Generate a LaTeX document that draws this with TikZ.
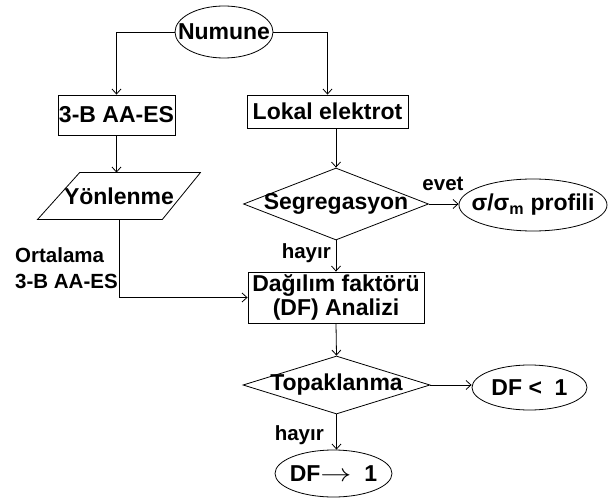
\documentclass[tikz,border=0pt]{standalone}
\usepackage{fontspec}
\setmainfont{Liberation Sans}
\usetikzlibrary{shapes.geometric,arrows.meta,calc}
\begin{document}
\begin{tikzpicture}[x=1pt,y=-1pt,
  base/.style={inner sep=0pt, font=\fontsize{23}{24.5}\selectfont\bfseries, line width=0.8pt},
  boxn/.style={base, draw, rectangle},
  ell/.style={base, draw, ellipse},
  dia/.style={base, draw, diamond},
  lab/.style={inner sep=0pt, font=\fontsize{20.5}{26}\selectfont\bfseries},
  arr/.style={line width=0.8pt, -{Straight Barb[length=5pt,width=9pt]}},
  ln/.style={line width=0.8pt}]
\useasboundingbox (0,0) rectangle (608,500);
% nodes
\node[ell, minimum width=98pt, minimum height=52pt] (num) at (224,32) {\makebox[0pt]{Numune}};
\node[boxn, minimum width=117pt, minimum height=40pt] (b3) at (116.5,115) {\makebox[0pt]{3-B AA-ES}};
\node[boxn, minimum width=161pt, minimum height=33pt] (lok) at (327.5,111.5) {\makebox[0pt]{Lokal elektrot}};
\node[base, minimum width=124pt, minimum height=46pt] (yon) at (119,196) {\makebox[0pt]{Yönlenme}};
\draw[ln] ([xshift=-19pt]yon.south west) -- ([xshift=23pt]yon.north west) -- ([xshift=19pt]yon.north east) -- ([xshift=-19pt]yon.south east) -- cycle;
\node[dia, minimum width=185pt, minimum height=72pt] (seg) at (336,204) {\makebox[0pt]{Segregasyon}};
\node[ell, minimum width=148pt, minimum height=52pt] (sig) at (533,205) {\makebox[0pt]{σ/σ\textsubscript{m} profili}};
\node[boxn, minimum width=176pt, minimum height=51pt, align=center] (df) at (336,297.5) {Dağılım faktörü\\(DF) Analizi};
\node[dia, minimum width=187pt, minimum height=58pt] (top) at (336.5,385) {\makebox[0pt]{Topaklanma}};
\node[ell, minimum width=115pt, minimum height=45pt] (dflt) at (529.5,387.5) {\makebox[0pt]{DF <\ \ 1}};
\node[ell, minimum width=117pt, minimum height=47pt] (dfto) at (333.5,473.5) {\makebox[0pt]{DF\scalebox{1.25}[1]{$\rightarrow$}\ \ 1}};
% labels
\node[lab, align=left, anchor=north west] (ort) at (15,247) {Ortalama\\3-B AA-ES};
\node[lab, anchor=base] (evet) at (443,190) {evet};
\node[lab, anchor=base east] (h1) at (331,258) {hayır};
\node[lab, anchor=base east] (h2) at (324,440) {hayır};
% connectors
\draw[arr] (num.west) -| (b3.north);
\draw[arr] (num.east) -| (lok.north);
\draw[arr] (b3.south) -- (b3.south |- yon.north);
\draw[arr] (seg.north |- lok.south) -- (seg.north);
\draw[arr] (seg.east) -- (seg.east -| sig.west);
\draw[arr] (seg.south) -- (df.north);
\draw[arr] (yon.south) -- (yon.south |- df.west) -- (df.west);
\draw[arr] (df.south) -- (top.north);
\draw[arr] (top.east) -- (top.east -| dflt.west);
\draw[arr] (top.south) -- (top.south |- dfto.north);
\end{tikzpicture}
\end{document}
